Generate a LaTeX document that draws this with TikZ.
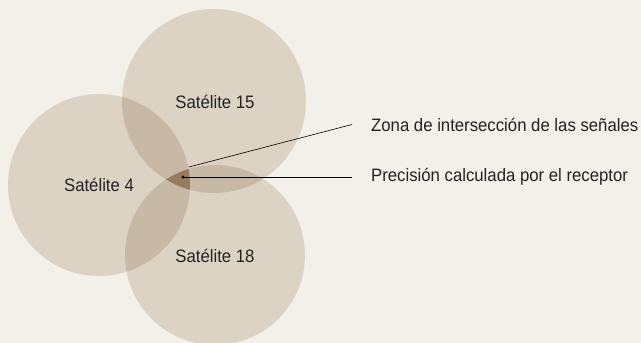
\documentclass[tikz,border=0pt]{standalone}
\usepackage{fontspec}
\setmainfont{Liberation Sans}[FakeStretch=0.93]
\definecolor{bgc}{HTML}{F3F0EA}
\definecolor{one}{HTML}{DCD3C5}
\definecolor{two}{HTML}{C8B8A6}
\definecolor{three}{HTML}{977A60}
\definecolor{txt}{HTML}{222222}
\tikzset{
  lbl/.style={font=\fontsize{18}{21}\selectfont, text=txt, inner sep=0pt},
  note/.style={font=\fontsize{18}{21}\selectfont, text=txt, anchor=west, inner ysep=0pt, inner xsep=19pt},
  leader/.style={draw=black, line width=0.6pt}
}
\begin{document}
\begin{tikzpicture}[x=1pt,y=-1pt]
\fill[bgc] (0,0) rectangle (641,343);
\useasboundingbox (0,0) rectangle (641,343);
\def\ca{(214,101) circle (92)}
\def\cb{(99,185) circle (91)}
\def\cc{(215,255) circle (90)}
\fill[one] \ca;
\fill[one] \cb;
\fill[one] \cc;
\begin{scope}\clip \ca; \fill[two] \cb; \end{scope}
\begin{scope}\clip \ca; \fill[two] \cc; \end{scope}
\begin{scope}\clip \cb; \fill[two] \cc; \end{scope}
\begin{scope}\clip \ca; \clip \cb; \fill[three] \cc; \end{scope}
\node[lbl] (s15) at (215,102) {Satélite 15};
\node[lbl] (s4) at (99,185) {Satélite 4};
\node[lbl] (s18) at (215,256) {Satélite 18};
\coordinate (dot) at (183,177);
\coordinate (zs) at (189,167);
\fill[black] (dot) circle (1.6);
\node[note] (zona) at (352,124.5) {Zona de intersección de las señales};
\node[note] (prec) at (352,177) {Precisión calculada por el receptor};
\draw[leader] (zs) -- (zona.west);
\draw[leader] (dot) -- (prec.west);
\end{tikzpicture}
\end{document}
